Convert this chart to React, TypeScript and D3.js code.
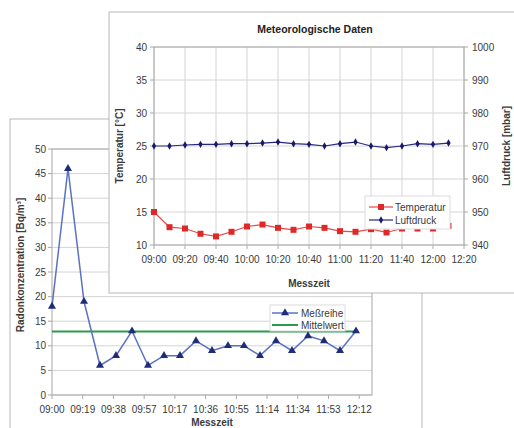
import React from 'react';
import * as d3 from 'd3';

// measurement times, every 10 minutes
const TIMES = [
    '09:00', '09:10', '09:20', '09:30', '09:40', '09:50', '10:00', '10:10', '10:20', '10:30',
    '10:40', '10:50', '11:00', '11:10', '11:20', '11:30', '11:40', '11:50', '12:00', '12:10',
];
const RADON = [18, 46, 19, 6, 8, 13, 6, 8, 8, 11, 9, 10, 10, 8, 11, 9, 12, 11, 9, 13];
const MITTELWERT = 12.9;
const TEMPERATUR = [
    15, 12.7, 12.5, 11.7, 11.3, 12.0, 12.8, 13.1, 12.6, 12.3,
    12.8, 12.6, 12.1, 12.0, 12.4, 11.9, 12.5, 12.5, 12.5, 12.9,
];
const LUFTDRUCK = [
    970, 970, 970.3, 970.5, 970.5, 970.7, 970.7, 970.9, 971.2, 970.7,
    970.5, 970, 970.7, 971.2, 970, 969.5, 970, 970.7, 970.5, 970.9,
];
const RADON_TICKS = ['09:00', '09:19', '09:38', '09:57', '10:17', '10:36', '10:55', '11:14', '11:34', '11:53', '12:12'];
const METEO_TICKS = ['09:00', '09:20', '09:40', '10:00', '10:20', '10:40', '11:00', '11:20', '11:40', '12:00', '12:20'];
const RADON_Y_TICKS = [0, 5, 10, 15, 20, 25, 30, 35, 40, 45, 50];
const TEMP_TICKS = [10, 15, 20, 25, 30, 35, 40];
const DRUCK_TICKS = [940, 950, 960, 970, 980, 990, 1000];

const FONT = '"Liberation Sans", Arial, sans-serif';
const TXT = '#3a3a3a';
const GRID = '#d4d4d4';
const AXIS = '#a8a8a8';

const toMin = (s: string) => {
    const [h, m] = s.split(':').map(Number);
    return (h - 9) * 60 + m;
};

const RadonChart = () => {
    const x = d3.scaleLinear([0, 200], [52, 372]);
    const y = d3.scaleLinear([0, 50], [395, 149]);
    const line = d3.line<number>().x((_, i) => x(toMin(TIMES[i]))).y(d => y(d));
    const tri = d3.symbol(d3.symbolTriangle, 28)();
    const mean = TIMES.map(() => MITTELWERT);
    return (
        <g>
            <rect x={10} y={119} width={412} height={330} fill='#fff' stroke='#b8b8b8' />
            {RADON_Y_TICKS.map(t => (
                <g key={t}>
                    <line x1={52} x2={372} y1={y(t)} y2={y(t)} stroke={GRID} />
                    <line x1={48} x2={52} y1={y(t)} y2={y(t)} stroke={AXIS} />
                    <text x={46} y={y(t) + 3.5} textAnchor='end' fontSize={10} fill={TXT}>{t}</text>
                </g>
            ))}
            <rect x={52} y={149} width={320} height={246} fill='none' stroke={AXIS} />
            {RADON_TICKS.map((t, i) => (
                <g key={t}>
                    <line x1={x(i * 19.2)} x2={x(i * 19.2)} y1={395} y2={399} stroke={AXIS} />
                    <text x={x(i * 19.2)} y={413} textAnchor='middle' fontSize={10} fill={TXT}>{t}</text>
                </g>
            ))}
            <path d={line(mean) ?? ''} fill='none' stroke='#2b9a4e' strokeWidth={2} />
            <path d={line(RADON) ?? ''} fill='none' stroke='#5b72c4' strokeWidth={1.5} />
            {RADON.map((d, i) => (
                <path key={i} d={tri ?? ''} transform={`translate(${x(toMin(TIMES[i]))},${y(d)})`} fill='#1f2c7a' />
            ))}
            <g>
                <rect x={270} y={305} width={75} height={26} fill='#fff' stroke='#dcdcdc' />
                <line x1={272} x2={298} y1={313} y2={313} stroke='#5b72c4' strokeWidth={1.5} />
                <path d={tri ?? ''} transform='translate(285,313)' fill='#1f2c7a' />
                <text x={301} y={316.5} fontSize={10} fill={TXT}>Meßreihe</text>
                <line x1={272} x2={298} y1={325} y2={325} stroke='#2b9a4e' strokeWidth={2} />
                <text x={301} y={328.5} fontSize={10} fill={TXT}>Mittelwert</text>
            </g>
            <text transform='translate(24,265) rotate(-90)' textAnchor='middle' fontSize={10} fontWeight='bold' fill={TXT}>
                Radonkonzentration [Bq/m³]
            </text>
            <text x={212} y={426} textAnchor='middle' fontSize={10} fontWeight='bold' fill={TXT}>Messzeit</text>
        </g>
    );
};

const MeteoChart = () => {
    const x = d3.scaleLinear([0, 200], [154, 464]);
    const yT = d3.scaleLinear([10, 40], [245, 47]);
    const yP = d3.scaleLinear([940, 1000], [245, 47]);
    const lineT = d3.line<number>().x((_, i) => x(toMin(TIMES[i]))).y(d => yT(d));
    const lineP = d3.line<number>().x((_, i) => x(toMin(TIMES[i]))).y(d => yP(d));
    const sq = d3.symbol(d3.symbolSquare, 36)();
    const dia = d3.symbol(d3.symbolDiamond, 16)();
    return (
        <g>
            <rect x={109} y={12} width={420} height={281} fill='#fff' stroke='#b8b8b8' />
            <text x={315} y={33} textAnchor='middle' fontSize={10.5} fontWeight='bold' fill='#222'>
                Meteorologische Daten
            </text>
            {METEO_TICKS.map((t, i) => (
                <g key={t}>
                    <line x1={x(i * 20)} x2={x(i * 20)} y1={47} y2={245} stroke={GRID} />
                    <line x1={x(i * 20)} x2={x(i * 20)} y1={245} y2={249} stroke={AXIS} />
                    <text x={x(i * 20)} y={263} textAnchor='middle' fontSize={10} fill={TXT}>{t}</text>
                </g>
            ))}
            {TEMP_TICKS.map(t => (
                <g key={t}>
                    <line x1={154} x2={464} y1={yT(t)} y2={yT(t)} stroke={GRID} />
                    <line x1={150} x2={154} y1={yT(t)} y2={yT(t)} stroke={AXIS} />
                    <text x={147} y={yT(t) + 3.5} textAnchor='end' fontSize={10} fill={TXT}>{t}</text>
                </g>
            ))}
            {DRUCK_TICKS.map(t => (
                <g key={t}>
                    <line x1={464} x2={468} y1={yP(t)} y2={yP(t)} stroke={AXIS} />
                    <text x={472} y={yP(t) + 3.5} fontSize={10} fill={TXT}>{t}</text>
                </g>
            ))}
            <rect x={154} y={47} width={310} height={198} fill='none' stroke={AXIS} />
            <path d={lineP(LUFTDRUCK) ?? ''} fill='none' stroke='#27287e' strokeWidth={1.2} />
            {LUFTDRUCK.map((d, i) => (
                <path key={i} d={dia ?? ''} transform={`translate(${x(toMin(TIMES[i]))},${yP(d)})`} fill='#161a6e' />
            ))}
            <path d={lineT(TEMPERATUR) ?? ''} fill='none' stroke='#e04a4a' strokeWidth={1.2} />
            {TEMPERATUR.map((d, i) => (
                <path key={i} d={sq ?? ''} transform={`translate(${x(toMin(TIMES[i]))},${yT(d)})`} fill='#e02828' />
            ))}
            <g>
                <rect x={365} y={196} width={85} height={33} fill='#fff' stroke='#dcdcdc' />
                <line x1={369} x2={393} y1={207} y2={207} stroke='#e04a4a' strokeWidth={1.2} />
                <path d={sq ?? ''} transform='translate(381,207)' fill='#e02828' />
                <text x={395} y={210.5} fontSize={10} fill={TXT}>Temperatur</text>
                <line x1={369} x2={393} y1={220} y2={220} stroke='#27287e' strokeWidth={1.2} />
                <path d={dia ?? ''} transform='translate(381,220)' fill='#161a6e' />
                <text x={395} y={223.5} fontSize={10} fill={TXT}>Luftdruck</text>
            </g>
            <text transform='translate(123,146) rotate(-90)' textAnchor='middle' fontSize={10} fontWeight='bold' fill={TXT}>
                Temperatur [°C]
            </text>
            <text transform='translate(510,146) rotate(-90)' textAnchor='middle' fontSize={10} fontWeight='bold' fill={TXT}>
                Luftdruck [mbar]
            </text>
            <text x={309} y={287} textAnchor='middle' fontSize={10} fontWeight='bold' fill={TXT}>Messzeit</text>
        </g>
    );
};

const App = () => {
    return (
        <svg
            width={514}
            height={428}
            style={{ position: 'absolute', left: 0, top: 0, background: '#fff' }}
            fontFamily={FONT}
        >
            <RadonChart />
            <MeteoChart />
        </svg>
    );
};

export default App;
